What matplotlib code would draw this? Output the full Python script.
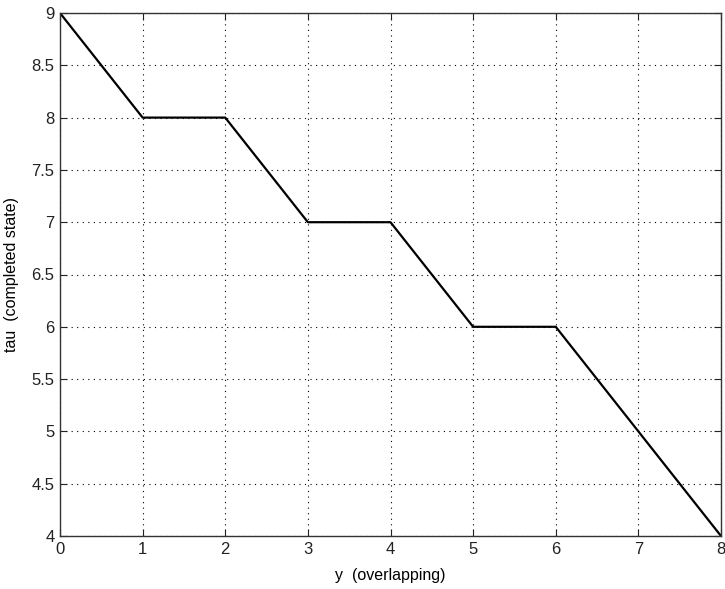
import matplotlib.pyplot as plt

y_overlap = [0, 1, 2, 3, 4, 5, 6, 7, 8]
tau = [9, 8, 8, 7, 7, 6, 6, 5, 4]
xticks = [0, 1, 2, 3, 4, 5, 6, 7, 8]
yticks = [4, 4.5, 5, 5.5, 6, 6.5, 7, 7.5, 8, 8.5, 9]
ytick_labels = ['4', '4.5', '5', '5.5', '6', '6.5', '7', '7.5', '8', '8.5', '9']

plt.rcParams['font.family'] = ['Liberation Sans', 'DejaVu Sans']

fig = plt.figure(figsize=(7.25, 5.89), dpi=100)
ax = fig.add_axes([60/725, 53/589, 661/725, 523/589])

ax.plot(y_overlap, tau, color='black', lw=1.6)

ax.set_xlim(0, 8)
ax.set_ylim(4, 9)
ax.set_xticks(xticks)
ax.set_yticks(yticks)
ax.set_yticklabels(ytick_labels)
ax.grid(True, linestyle=(0, (1, 4)), color='black', lw=0.8)
ax.tick_params(direction='in', length=5, top=True, right=True, labelsize=12, colors='#222222', pad=4)
for s in ax.spines.values():
    s.set_color('#333333')
    s.set_linewidth(1.0)

ax.set_xlabel('y  (overlapping)', fontsize=11.5, labelpad=8)
ax.set_ylabel('tau  (completed state)', fontsize=11.5, labelpad=9)

plt.savefig('out.png')
